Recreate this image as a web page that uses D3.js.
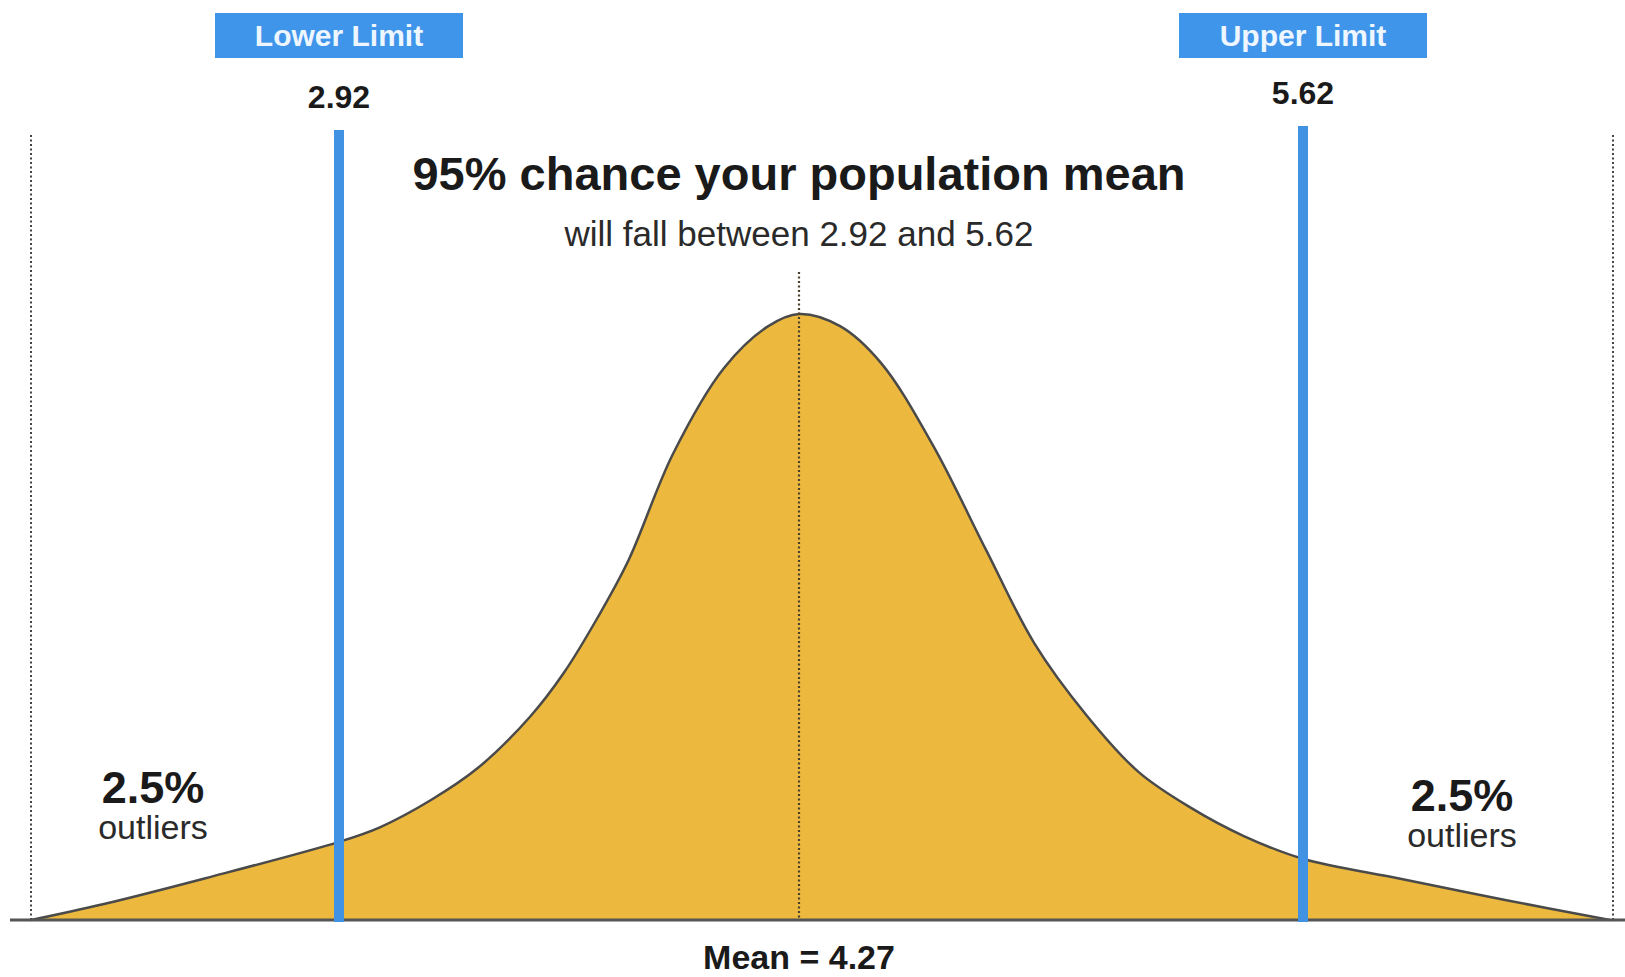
<!DOCTYPE html>
<html>
<head>
<meta charset="utf-8">
<script src="https://cdn.jsdelivr.net/npm/d3@7"></script>
<style>
  html, body { margin: 0; padding: 0; background: #fff; }
  svg { display: block; font-family: "Liberation Sans", Arial, Helvetica, sans-serif; }
</style>
</head>
<body>
<div id="chart"></div>
<script>
// Curve: x in data units, relative density (peak = 1)
const curveX = [2.02, 2.23, 2.53, 2.92, 3.04, 3.19, 3.33, 3.48, 3.58, 3.68, 3.77, 3.90, 4.05, 4.18, 4.27,
                4.38, 4.49, 4.63, 4.77, 4.90, 5.04, 5.18, 5.32, 5.46, 5.62, 5.88, 6.16, 6.44];
const curveY = [0, 0.026, 0.069, 0.129, 0.153, 0.198, 0.252, 0.335, 0.408, 0.500, 0.594, 0.769, 0.911, 0.980, 1.0,
                0.980, 0.919, 0.782, 0.612, 0.457, 0.338, 0.244, 0.185, 0.139, 0.101, 0.068, 0.033, 0];

const limitValues = [2.92, 5.62];
const limitNames = ["Lower Limit", "Upper Limit"];
const meanValue = 4.27;
const title = "95% chance your population mean";
const subtitle = "will fall between 2.92 and 5.62";
const tailShare = "2.5%";
const tailWord = "outliers";

const width = 1625, height = 977;
const baseY = 920, peakY = 314;

const points = curveX.map((x, i) => ({x: x, y: curveY[i]}));
const xMin = d3.min(curveX), xMax = d3.max(curveX);

// The drawing is not evenly spaced, so use a piecewise scale through limits and mean
const x = d3.scaleLinear()
    .domain([xMin, limitValues[0], meanValue, limitValues[1], xMax])
    .range([31, 339, 799, 1303, 1610]);

const y = d3.scaleLinear()
    .domain([0, 1])
    .range([baseY, peakY]);

const svg = d3.select("#chart")
    .append("svg")
    .attr("width", width)
    .attr("height", height);

// Dotted edges of the distribution
svg.selectAll("line.edge")
    .data([xMin, xMax])
    .enter().append("line")
    .attr("class", "edge")
    .attr("x1", d => x(d) + (d === xMax ? 3 : 0))
    .attr("x2", d => x(d) + (d === xMax ? 3 : 0))
    .attr("y1", 135)
    .attr("y2", baseY)
    .attr("stroke", "#444")
    .attr("stroke-width", 2)
    .attr("stroke-dasharray", "2,2.5");

// Filled curve
const area = d3.area()
    .x(d => x(d.x))
    .y0(baseY)
    .y1(d => y(d.y))
    .curve(d3.curveCatmullRom.alpha(0.5));

const line = d3.line()
    .x(d => x(d.x))
    .y(d => y(d.y))
    .curve(d3.curveCatmullRom.alpha(0.5));

svg.append("path")
    .datum(points)
    .attr("d", area)
    .attr("fill", "#ecb93e");

svg.append("path")
    .datum(points)
    .attr("d", line)
    .attr("fill", "none")
    .attr("stroke", "#4a4a4a")
    .attr("stroke-width", 2.5);

// Mean marker
svg.append("line")
    .attr("x1", x(meanValue))
    .attr("x2", x(meanValue))
    .attr("y1", 272)
    .attr("y2", baseY)
    .attr("stroke", "#4a3f2a")
    .attr("stroke-width", 2.2)
    .attr("stroke-dasharray", "2,2.5");

// Baseline
svg.append("line")
    .attr("x1", 10)
    .attr("x2", width)
    .attr("y1", baseY)
    .attr("y2", baseY)
    .attr("stroke", "#555")
    .attr("stroke-width", 3);

// Confidence limits
const limits = svg.selectAll("g.limit")
    .data(limitValues)
    .enter().append("g")
    .attr("class", "limit");

limits.append("line")
    .attr("x1", d => x(d))
    .attr("x2", d => x(d))
    .attr("y1", (d, i) => i === 0 ? 130 : 126)
    .attr("y2", baseY + 2)
    .attr("stroke", "#4192e3")
    .attr("stroke-width", 10);

limits.append("rect")
    .attr("x", d => x(d) - 124)
    .attr("y", 13)
    .attr("width", 248)
    .attr("height", 45)
    .attr("fill", "#3f95ea");

limits.append("text")
    .attr("x", d => x(d))
    .attr("y", 46)
    .attr("text-anchor", "middle")
    .attr("font-size", 30)
    .attr("font-weight", "bold")
    .attr("fill", "#eef6ff")
    .text((d, i) => limitNames[i]);

limits.append("text")
    .attr("x", d => x(d))
    .attr("y", (d, i) => i === 0 ? 108 : 104)
    .attr("text-anchor", "middle")
    .attr("font-size", 32)
    .attr("font-weight", "bold")
    .attr("fill", "#1a1a1a")
    .text(d => d.toFixed(2));

// Title and subtitle
svg.append("text")
    .attr("x", x(meanValue))
    .attr("y", 190)
    .attr("text-anchor", "middle")
    .attr("font-size", 47)
    .attr("font-weight", "bold")
    .attr("fill", "#1a1a1a")
    .text(title);

svg.append("text")
    .attr("x", x(meanValue))
    .attr("y", 246)
    .attr("text-anchor", "middle")
    .attr("font-size", 35)
    .attr("fill", "#2a2a2a")
    .text(subtitle);

// Tail notes
const tails = svg.selectAll("g.tail")
    .data([{cx: 153, top: 803}, {cx: 1462, top: 811}])
    .enter().append("g")
    .attr("class", "tail");

tails.append("text")
    .attr("x", d => d.cx)
    .attr("y", d => d.top)
    .attr("text-anchor", "middle")
    .attr("font-size", 45)
    .attr("font-weight", "bold")
    .attr("fill", "#1a1a1a")
    .text(tailShare);

tails.append("text")
    .attr("x", d => d.cx)
    .attr("y", d => d.top + 36)
    .attr("text-anchor", "middle")
    .attr("font-size", 34)
    .attr("fill", "#2a2a2a")
    .text(tailWord);

// Mean label
svg.append("text")
    .attr("x", x(meanValue))
    .attr("y", 969)
    .attr("text-anchor", "middle")
    .attr("font-size", 34)
    .attr("font-weight", "bold")
    .attr("fill", "#1a1a1a")
    .text("Mean = " + meanValue.toFixed(2));
</script>
</body>
</html>
